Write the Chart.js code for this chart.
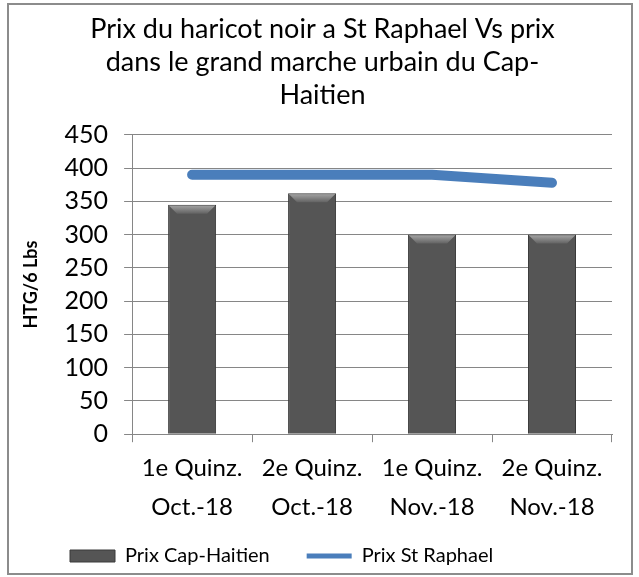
<!DOCTYPE html>
<html>
<head>
<meta charset="utf-8">
<script src="https://cdn.jsdelivr.net/npm/chart.js@4"></script>
<style>
  body { margin: 0; background: #fff; }
  #frame { position: absolute; left: 7px; top: 3px; width: 622px; height: 568px; border: 2px solid #8c8c8c; }
  #wrap { position: absolute; left: 0; top: 0; width: 639px; height: 577px; }
</style>
</head>
<body>
<div id="frame"></div>
<div id="wrap"><canvas id="myChart" width="639" height="577"></canvas></div>
<script>
var labels = [["1e Quinz.", "Oct.-18"], ["2e Quinz.", "Oct.-18"], ["1e Quinz.", "Nov.-18"], ["2e Quinz.", "Nov.-18"]];
var prixCap = [345, 362, 300, 300];
var prixStRaphael = [390, 390, 390, 378];
var yTicks = [0, 50, 100, 150, 200, 250, 300, 350, 400, 450];

var fontName = "Lato, 'Open Sans', sans-serif";

// little lighter bevel on top of each bar, like the excel look
var bevel = {
    id: 'bevel',
    afterDatasetsDraw: function(chart) {
        var c = chart.ctx;
        var meta = chart.getDatasetMeta(0);
        meta.data.forEach(function(bar) {
            var half = bar.width / 2;
            var left = bar.x - half, right = bar.x + half, top = bar.y;
            var g = c.createLinearGradient(0, top, 0, top + 9);
            g.addColorStop(0, '#a8a8a8');
            g.addColorStop(1, '#626262');
            c.save();
            c.beginPath();
            c.moveTo(left + 1, top + 1);
            c.lineTo(right - 1, top + 1);
            c.lineTo(right - 9, top + 9);
            c.lineTo(left + 9, top + 9);
            c.closePath();
            c.fillStyle = g;
            c.fill();
            c.restore();
        });
    }
};

// legend sits a bit higher than chart.js would put it (big gap between the items)
var legendUp = {
    id: 'legendUp',
    afterLayout: function(chart) {
        chart.legend.top -= 24;
    }
};

var ctx = document.getElementById('myChart').getContext('2d');
var chart = new Chart(ctx, {
    type: 'bar',
    data: {
        labels: labels,
        datasets: [{
            type: 'bar',
            label: "Prix Cap-Haitien",
            data: prixCap,
            backgroundColor: '#555555',
            borderColor: '#3a3a3a',
            borderWidth: 1,
            categoryPercentage: 1,
            barPercentage: 0.4
        }, {
            type: 'line',
            label: "Prix St Raphael",
            data: prixStRaphael,
            borderColor: '#4a7ebb',
            backgroundColor: '#4a7ebb',
            borderWidth: 10,
            borderCapStyle: 'round',
            borderJoinStyle: 'round',
            pointRadius: 0,
            fill: false,
            tension: 0
        }]
    },
    options: {
        responsive: false,
        animation: false,
        layout: { padding: { left: 33, right: 27, top: 8, bottom: -23 } },
        plugins: {
            title: {
                display: true,
                text: ["Prix du haricot noir a St Raphael Vs prix", "dans le grand marche urbain du Cap-", "Haitien"],
                color: '#000',
                font: { family: fontName, size: 27, weight: 'normal', lineHeight: 1.22 },
                padding: { top: 5, bottom: 23 }
            },
            legend: {
                position: 'bottom',
                align: 'start',
                labels: {
                    usePointStyle: true,
                    pointStyleWidth: 45,
                    boxHeight: 12,
                    padding: 37,
                    color: '#000',
                    font: { family: fontName, size: 20 },
                    generateLabels: function(chart) {
                        var items = Chart.defaults.plugins.legend.labels.generateLabels(chart);
                        items[0].pointStyle = 'rect';
                        items[0].lineWidth = 1;
                        items[0].strokeStyle = '#3a3a3a';
                        items[1].pointStyle = 'line';
                        items[1].lineWidth = 5;
                        items[1].strokeStyle = '#4a7ebb';
                        return items;
                    }
                }
            },
            tooltip: { enabled: false }
        },
        scales: {
            x: {
                grid: { offset: true, drawOnChartArea: false, color: '#868686', tickLength: 8 },
                border: { color: '#868686' },
                ticks: { color: '#000', font: { family: fontName, size: 24, lineHeight: 1.6 }, padding: 7, maxRotation: 0 }
            },
            y: {
                min: 0,
                max: 450,
                afterBuildTicks: function(axis) { axis.ticks = yTicks.map(function(v) { return { value: v }; }); },
                grid: { color: '#868686', tickLength: 8 },
                border: { color: '#868686' },
                ticks: { color: '#000', font: { family: fontName, size: 25 }, padding: 16, autoSkip: false },
                title: { display: true, text: 'HTG/6 Lbs', color: '#000', font: { family: fontName, size: 18, weight: 'bold' }, padding: { top: -13, bottom: 7 } }
            }
        }
    },
    plugins: [bevel, legendUp]
});
</script>
</body>
</html>
